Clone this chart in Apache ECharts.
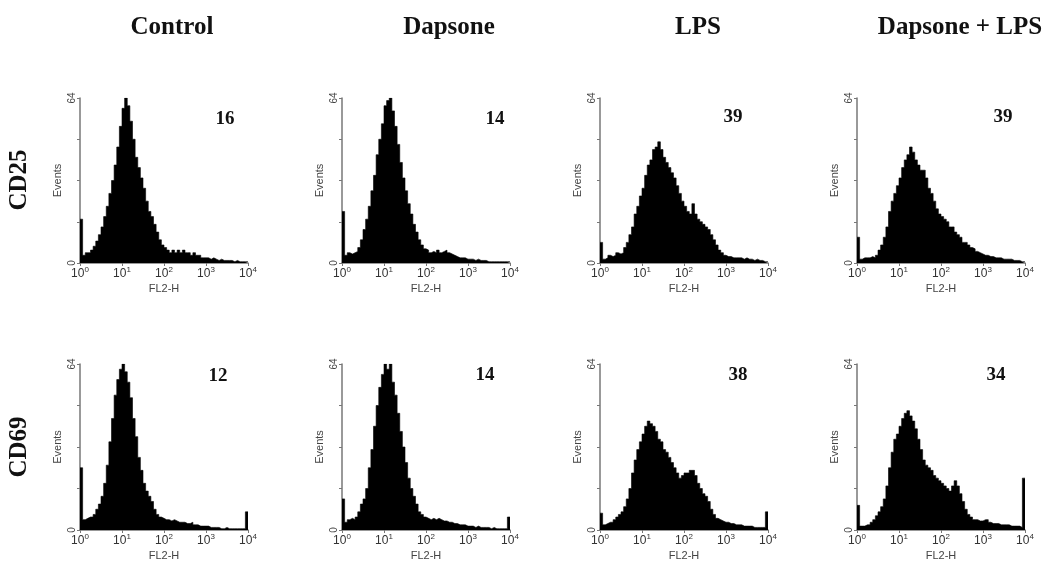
<!DOCTYPE html>
<html>
<head>
<meta charset="utf-8">
<script src="https://cdn.jsdelivr.net/npm/echarts@6/dist/echarts.min.js"></script>
<style>
html,body{margin:0;padding:0;background:#fff;}
#chart{width:1042px;height:569px;}
</style>
</head>
<body>
<div id="chart"></div>
<script>
// ---- DATA ----
const conditions = ['Control', 'Dapsone', 'LPS', 'Dapsone + LPS'];
const markers = ['CD25', 'CD69'];
const percents = [[16, 14, 39, 39], [12, 14, 38, 34]];
const decadeExponents = [0, 1, 2, 3, 4];
const yTickValues = [0, 64];
const binsPerDecade = 16;

// histogram counts, 16 bins per decade from 10^0 to 10^4
const cd25Control = [17,3,4,4,5,6.5,8.5,11,14,18,22,27,32,38,45,53,60,64,61,55,48,41,37,33,29,24,20,18,15,12,9,7,6,5,4,5,4,5,4,5,4,4,3,4,3,3,2,2,2,1.5,2,1.5,1,1.5,1,1,1,1,0.5,1,0.5,0.5,0.5,0.5];
const cd25Dapsone = [20,3,4,3.5,4,4.5,6,9,13,17,22,28,34,42,48,54,61,63,64,59,53,46,39,33,28,23,19,15,12,9,7,5.5,5,4,4.5,4,5,4,4.5,5,4,3.5,3,2.5,2,2,2,1.5,1.5,1.5,1,1.5,1,1,1,0.5,0.5,0.5,0.5,0.5,0.5,0.5,0.5,0.5];
const cd25LPS = [8,1.5,2,3,2.5,3,4,3.5,4,6,8,11,14,19,22,26,29,34,38,40,44,45,47,44,41,39,37,35,33,30,27,24,22,20,19,23,19,17,16,15,14,13,11,9,7,5,4,3,2.5,2.5,2,2,2,2,1.5,2,1.5,1.5,1,1.5,1,1,0.5,0.5];
const cd25DapsoneLPS = [10,1.5,2,2,2,2.5,2,3,5,7,10,14,20,24,27,30,33,37,40,42,45,43,40,38,36,36,33,29,27,24,21,19,18,17,16,14,14,12,11,10,8,8,7,6,5.5,4.5,4,3.5,3,3,2.5,2.5,2,2,2,1.5,1.5,1.5,1.5,1,1,1,0.5,0.5];
const cd69Control = [24,4,4.5,5,5,6,8,10,13,18,25,34,43,52,58,62,64,61,57,51,43,36,28,23,18,15,13,11,8,6,5,4.5,4,4,3.5,4,3.5,3,3,3,2.5,2.5,3,2,2,1.5,1.5,1.5,1.5,1,1,1,1,0.5,0.5,1,0.5,0.5,0.5,0.5,0.5,0.5,0.5,7];
const cd69Dapsone = [12,3,4,4.5,4,5,7,10,12,16,24,31,40,48,55,60,64,62,64,57,52,45,38,32,26,20,16,13,10,7,6,5,4.5,4,4.5,4,4.5,4,3.5,3.5,3,3,2.5,2.5,2,2,2,1.5,1.5,1.5,1,1.5,1,1,1,1,0.5,1,0.5,0.5,0.5,0.5,0.5,5];
const cd69LPS = [6.5,2,2.5,3,3,4,5,6,7,9,12,16,22,27,31,34,37,40,42,41,40,38,35,34,31,30,28,26,24,22,20,21,22,22,23,23,21,18,16,14,13,11,8,6,4.5,4,3.5,3,3,2.5,2.5,2,2,2,1.5,1.5,1.5,1.5,1,1,1,1,1,7];
const cd69DapsoneLPS = [9.5,1.5,1.5,2,2,3,4,5.5,7,9,12,17,24,30,35,37,40,43,45,46,44,42,39,35,31,27,25,24,23,21,20,19,18,17,16,15,17,19,17,14,11,8,6,5,4,4,3.5,3.5,4,4,3,2.5,2.5,2.5,2,2,2,2,1.5,1.5,1.5,1.5,1,20];

const histograms = [
  [cd25Control, cd25Dapsone, cd25LPS, cd25DapsoneLPS],
  [cd69Control, cd69Dapsone, cd69LPS, cd69DapsoneLPS]
];

// ---- LAYOUT ----
const colLeft = [80, 342, 600, 857];
const plotW = 168;
const rowTop = [98, 364];
const plotH = [165, 166];
const pctOffset = [[[140, 7], [148, 7], [128, 5], [141, 5]],
                   [[133, -2], [138, -3], [133, -3], [134, -3]]];
const titleCenters = [167, 444, 693, 955];
const rowCenters = [180, 447];

const chart = echarts.init(document.getElementById('chart'), null, {renderer: 'canvas'});

const grids = [], xAxes = [], yAxes = [], series = [], titles = [], graphics = [];
let k = 0;
for (let r = 0; r < 2; r++) {
  for (let c = 0; c < 4; c++) {
    grids.push({left: colLeft[c], top: rowTop[r], width: plotW, height: plotH[r], containLabel: false});
    xAxes.push({
      type: 'value', gridIndex: k, min: 0, max: 4, interval: 1,
      name: 'FL2-H', nameLocation: 'middle', nameGap: 20,
      nameTextStyle: {fontFamily: 'Liberation Sans', fontSize: 11, color: '#444'},
      axisLine: {lineStyle: {color: '#777', width: 1.5}},
      axisTick: {show: true, length: 3, lineStyle: {color: '#777'}},
      splitLine: {show: false},
      axisLabel: {
        margin: 3,
        formatter: v => decadeExponents.indexOf(v) >= 0 ? '{b|10}{s|' + v + '}' : '',
        rich: {
          b: {fontFamily: 'Liberation Sans', fontSize: 12, color: '#333'},
          s: {fontFamily: 'Liberation Sans', fontSize: 8, color: '#333', padding: [0, 0, 7, 0]}
        }
      }
    });
    yAxes.push({
      type: 'value', gridIndex: k, min: 0, max: 64, interval: 16,
      name: 'Events', nameLocation: 'middle', nameGap: 17, nameRotate: 90,
      nameTextStyle: {fontFamily: 'Liberation Sans', fontSize: 11, color: '#444'},
      axisLine: {show: true, lineStyle: {color: '#777', width: 1.5}},
      axisTick: {show: true, length: 3, lineStyle: {color: '#777'}},
      splitLine: {show: false},
      axisLabel: {
        rotate: 90, margin: 3,
        fontFamily: 'Liberation Sans', fontSize: 10, color: '#444',
        formatter: v => yTickValues.indexOf(v) >= 0 ? String(v) : ''
      }
    });
    const vals = histograms[r][c];
    const pts = vals.map((v, i) => [i / binsPerDecade, v]);
    pts.push([vals.length / binsPerDecade, vals[vals.length - 1]]);
    series.push({
      type: 'line', xAxisIndex: k, yAxisIndex: k, step: 'end',
      data: pts, showSymbol: false, symbol: 'none', silent: true,
      lineStyle: {color: '#000', width: 0.6},
      areaStyle: {color: '#000', opacity: 1}
    });
    titles.push({
      text: String(percents[r][c]),
      left: colLeft[c] + pctOffset[r][c][0], top: rowTop[r] + pctOffset[r][c][1],
      textAlign: 'center',
      textStyle: {fontFamily: 'Liberation Serif', fontWeight: 'bold', fontSize: 19, color: '#111'}
    });
    k++;
  }
}
conditions.forEach((t, c) => {
  titles.push({
    text: t, left: titleCenters[c], top: 10, textAlign: 'center',
    textStyle: {fontFamily: 'Liberation Serif', fontWeight: 'bold', fontSize: 25, color: '#111'}
  });
});
markers.forEach((m, r) => {
  graphics.push({
    type: 'text', x: 20, y: rowCenters[r], rotation: Math.PI / 2,
    style: {text: m, fontFamily: 'Liberation Serif', fontWeight: 'bold', fontSize: 25,
            fill: '#111', align: 'center', verticalAlign: 'middle'}
  });
});

chart.setOption({
  backgroundColor: '#fff',
  animation: false,
  title: titles,
  grid: grids,
  xAxis: xAxes,
  yAxis: yAxes,
  series: series,
  graphic: graphics
});
</script>
</body>
</html>
